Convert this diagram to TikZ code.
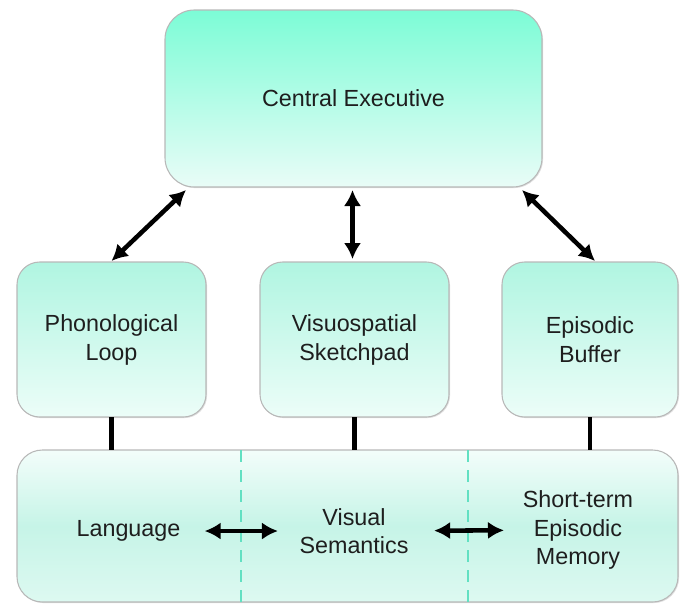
\documentclass[tikz,border=0pt]{standalone}
\usepackage{fontspec}
\setmainfont{Liberation Sans}
\usetikzlibrary{arrows.meta,calc,shadows}

\definecolor{ceTop}{HTML}{7CFCD6}
\definecolor{ceBot}{HTML}{E9FCF7}
\definecolor{midTop}{HTML}{B0F5E1}
\definecolor{midBot}{HTML}{ECFDF8}
\definecolor{memTop}{HTML}{F3FDFA}
\definecolor{memMid}{HTML}{C6F4E7}
\definecolor{memBot}{HTML}{DDF9F1}
\definecolor{divCol}{HTML}{62E0C2}
\definecolor{txtCol}{HTML}{1E1E1E}

\tikzset{
  boxbase/.style={draw=black!28, line width=0.8pt, inner sep=0pt, outer sep=0pt,
    align=center, text=txtCol, font=\fontsize{17.5}{21.8}\selectfont,
    drop shadow={shadow xshift=0.8pt, shadow yshift=-0.8pt, opacity=0.25}},
  cebox/.style={boxbase, rounded corners=22pt, top color=ceTop, bottom color=ceBot,
    minimum width=282.75pt, minimum height=132.75pt},
  subbox/.style={boxbase, rounded corners=17pt, top color=midTop, bottom color=midBot,
    minimum height=116.25pt},
  membox/.style={boxbase, rounded corners=19pt, top color=memTop, bottom color=memBot, middle color=memMid,
    minimum width=495.75pt, minimum height=114pt},
  lbl/.style={inner sep=0pt, align=center, text=txtCol, font=\fontsize{17.5}{21.3}\selectfont},
  dbl/.style={{Latex[length=12pt,width=13pt]}-{Latex[length=12pt,width=13pt]}, line width=3.4pt},
  tie/.style={line width=3.2pt},
  divider/.style={divCol, line width=2pt, dash pattern=on 9pt off 6pt}
}

\begin{document}
\begin{tikzpicture}[x=0.75pt,y=-0.75pt]
\useasboundingbox (0,0) rectangle (680,604);

% boxes
\node[cebox] (ce) at (353.5,98.5) {Central Executive};
\node[subbox, minimum width=141.75pt] (phono) at (111.5,339.5) {Phonological\\Loop};
\node[subbox, minimum width=141.75pt] (visuo) at (354.5,339.5) {Visuospatial\\Sketchpad};
\node[subbox, minimum width=132pt] (epi) at (590,339.5) {Episodic\\Buffer};
\node[membox] (mem) at (347.5,526) {};

\foreach \x in {241,468} \draw[divider] (\x,0 |- mem.north) -- (\x,0 |- mem.south);

% labels of the lower box
\node[lbl] (lang) at (128.5,531) {Language};
\node[lbl] (vissem) at (354,531) {Visual\\Semantics};
\node[lbl] (stm) at (578,530) {Short-term\\Episodic\\Memory};

% connectors
\draw[dbl] ($(ce.south west)+(21,3)$) -- ($(phono.north)+(0,-1)$);
\draw[dbl] ($(ce.south)+(-1,3)$) -- ($(visuo.north)+(-2,-3)$);
\draw[dbl] ($(ce.south east)+(-20,3)$) -- ($(epi.north)+(5,-1)$);

\draw[tie] (phono.south) -- (phono.south |- mem.north);
\draw[tie] (visuo.south) -- (visuo.south |- mem.north);
\draw[tie] (epi.south) -- (epi.south |- mem.north);

\draw[dbl, shorten <=18pt, shorten >=16pt] (lang) -- (vissem);
\draw[dbl, shorten <=19pt, shorten >=14pt] (vissem) -- (stm);
\end{tikzpicture}
\end{document}
